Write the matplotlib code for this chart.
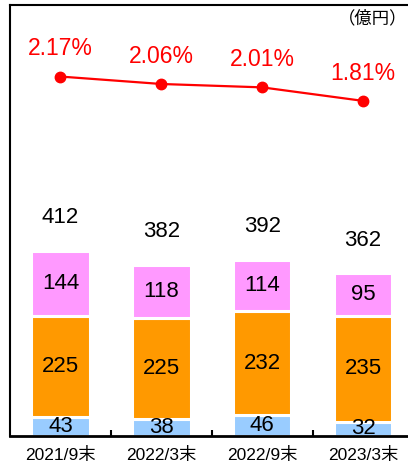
import matplotlib
matplotlib.use("Agg")
import matplotlib.pyplot as plt
import numpy as np

plt.rcParams["font.family"] = ["Liberation Sans", "Noto Sans CJK JP"]

# ----------------------------------------
# Data
# ----------------------------------------
periods = ["2021/9末", "2022/3末", "2022/9末", "2023/3末"]
bottom_vals = [43, 38, 46, 32]      # light blue
middle_vals = [225, 225, 232, 235]  # orange
top_vals = [144, 118, 114, 95]      # pink
totals = [412, 382, 392, 362]
ratios = [2.17, 2.06, 2.01, 1.81]   # %

blue = "#99CCFF"
orange = "#FF9900"
pink = "#FF99FF"
red = "#FF0000"

# ----------------------------------------
# Figure
# ----------------------------------------
fig = plt.figure(figsize=(4.08, 4.66), dpi=100)
ax = fig.add_axes([0.0245, 0.0644, 0.989, 0.925])

x = np.arange(len(periods))
w = 0.58
b1 = np.array(bottom_vals)
b2 = b1 + np.array(middle_vals)

ax.bar(x, bottom_vals, w, color=blue, edgecolor="white", linewidth=2.2)
ax.bar(x, middle_vals, w, bottom=b1, color=orange, edgecolor="white", linewidth=2.2)
ax.bar(x, top_vals, w, bottom=b2, color=pink, edgecolor="white", linewidth=2.2)

for i in range(len(periods)):
    ax.text(x[i], bottom_vals[i] / 2, str(bottom_vals[i]), ha="center", va="center", fontsize=16)
    ax.text(x[i], b1[i] + middle_vals[i] / 2, str(middle_vals[i]), ha="center", va="center", fontsize=16)
    ax.text(x[i], b2[i] + top_vals[i] / 2, str(top_vals[i]), ha="center", va="center", fontsize=16)
    ax.annotate(str(totals[i]), (x[i], totals[i]), xytext=(0, 24), textcoords="offset points",
                ha="center", va="center", fontsize=16)

ax.set_xlim(-0.5, 3.5)
ax.set_ylim(0, 960)
ax.set_yticks([])
ax.set_xticks(x)
ax.set_xticklabels(periods, fontsize=12.5)
ax.tick_params(axis="x", length=0, pad=8)
# tick marks between categories
ax.set_xticks([0.5, 1.5, 2.5], minor=True)
ax.tick_params(axis="x", which="minor", direction="in", length=4, width=1.5)

for s in ["left", "top", "bottom"]:
    ax.spines[s].set_linewidth(1.5)
    ax.spines[s].set_zorder(5)
ax.spines["bottom"].set_linewidth(2)
ax.spines["right"].set_visible(False)

# ratio line on second axis
ax2 = ax.twinx()
ax2.set_ylim(-3.15, 3.23)
ax2.axis("off")
ax2.plot(x, ratios, color=red, linewidth=1.6, marker="o", markersize=7.5)
for i in range(len(periods)):
    ax2.annotate(f"{ratios[i]:.2f}%", (x[i], ratios[i]), xytext=(0, 20), textcoords="offset points",
                 ha="center", va="center", fontsize=16.5, color=red)

fig.text(0.998, 0.962, "（億円）", ha="right", va="center", fontsize=12.5)

fig.savefig("out.png", dpi=100)
